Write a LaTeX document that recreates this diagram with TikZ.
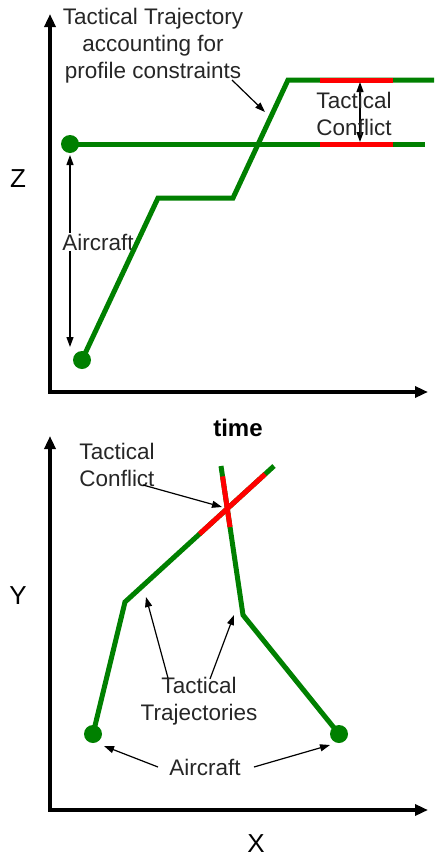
\documentclass[tikz,border=0pt]{standalone}
\usepackage{fontspec}
\setmainfont{Liberation Sans}
\usetikzlibrary{arrows.meta,calc}
\definecolor{trajgreen}{RGB}{0,128,0}
\definecolor{confred}{RGB}{255,0,0}
\begin{document}
\begin{tikzpicture}[x=1pt,y=-1pt,
  axis/.style={line width=4pt,-{Triangle[length=13pt,width=11pt]}},
  traj/.style={trajgreen,line width=5pt},
  conf/.style={confred,line width=5pt},
  dot/.style={circle,fill=trajgreen,minimum size=18pt,inner sep=0pt},
  lbl/.style={font=\fontsize{22.5}{27}\selectfont,align=center,inner sep=1pt,text=black!85},
  axlbl/.style={font=\fontsize{26}{30}\selectfont,inner sep=0pt},
  pointer/.style={line width=1.2pt,-{Triangle[length=10pt,width=7pt]}},
  dpointer/.style={line width=1.2pt,{Triangle[length=10pt,width=7pt]}-{Triangle[length=10pt,width=7pt]}},
]
\useasboundingbox (0,0) rectangle (434,857);

% ---------- top panel ----------
\coordinate (zO) at (50,392);
\coordinate (zTop) at (50,14);
\coordinate (tEnd) at (428,392);
\draw[axis] (zO) -- (zTop);
\draw[axis] ([xshift=-2pt]zO) -- (tEnd);
\node[axlbl] (zl) at (18,179) {Z};
\node[axlbl,font=\fontsize{24}{28}\selectfont\bfseries] (tl) at (238,428) {time};

\node[dot] (dotA) at (70,144) {};
\node[dot] (dotB) at (82,360) {};

% aircraft double arrow
\coordinate (aUp) at (70,155);
\coordinate (aDn) at (70,347);
\draw[dpointer] (aUp) -- (aDn);
\node[lbl,fill=white] (acA) at (98,242) {Aircraft};

% trajectories
\coordinate (hEnd) at (425,144);
\coordinate (p1) at (158,198);
\coordinate (p2) at (233,198);
\coordinate (p3) at (288,80);
\coordinate (p4) at (434,80);
\draw[traj] (dotA.center) -- (hEnd);
\draw[traj] (dotB.center) -- (p1) -- (p2) -- (p3) -- (p4);
\coordinate (r1a) at (320,80);
\coordinate (r1b) at (393,80);
\coordinate (r2a) at (320,144);
\coordinate (r2b) at (393,144);
\draw[conf] (r1a) -- (r1b);
\draw[conf] (r2a) -- (r2b);

% labels top
\node[lbl] (ttlabel) at (153,46) {Tactical Trajectory\\accounting for\\profile constraints};
\coordinate (ttStart) at (232,80);
\coordinate (ttTip) at (265,112);
\draw[pointer] (ttStart) -- (ttTip);

\coordinate (cUp) at (360,82);
\coordinate (cDn) at (360,142);
\draw[dpointer] (cDn) -- (cUp);
\node[lbl] (tcA) at (354,114) {Tactical\\Conflict};

% ---------- bottom panel ----------
\coordinate (yO) at (50,810);
\coordinate (yTop) at (50,436);
\coordinate (xEnd) at (428,810);
\draw[axis] (yO) -- (yTop);
\draw[axis] ([xshift=-2pt]yO) -- (xEnd);
\node[axlbl] (yl) at (18,596) {Y};
\node[axlbl] (xl) at (256,844) {X};

\node[dot] (dotC) at (93,734) {};
\node[dot] (dotD) at (339,734) {};

\coordinate (b1) at (125,602);
\coordinate (e1) at (274,466);
\coordinate (b2) at (243,615);
\coordinate (e2) at (221,466);
\draw[traj] (dotC.center) -- (b1) -- (e1);
\draw[traj] (dotD.center) -- (b2) -- (e2);
\draw[conf] ($(b1)!0.50!(e1)$) -- ($(b1)!0.94!(e1)$);
\draw[conf] ($(b2)!0.59!(e2)$) -- ($(b2)!0.93!(e2)$);

\node[lbl] (tcB) at (117,465) {Tactical\\Conflict};
\coordinate (tcBs) at (143,485);
\coordinate (tcBt) at (222,507);
\draw[pointer] (tcBs) -- (tcBt);

\node[lbl] (ttB) at (199,701) {Tactical\\Trajectories};
\coordinate (tr1s) at (168,678);
\coordinate (tr1t) at (146,597);
\coordinate (tr2s) at (210,679);
\coordinate (tr2t) at (234,615);
\draw[pointer] (tr1s) -- (tr1t);
\draw[pointer] (tr2s) -- (tr2t);

\node[lbl] (acB) at (205,767) {Aircraft};
\coordinate (ac1s) at (158,767);
\coordinate (ac1t) at (104,746);
\coordinate (ac2s) at (254,767);
\coordinate (ac2t) at (330,745);
\draw[pointer] (ac1s) -- (ac1t);
\draw[pointer] (ac2s) -- (ac2t);
\end{tikzpicture}
\end{document}
